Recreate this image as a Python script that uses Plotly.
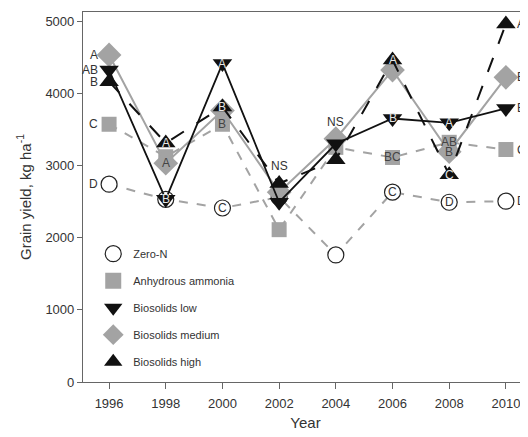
import plotly.graph_objects as go

years = [1996, 1998, 2000, 2002, 2004, 2006, 2008, 2010]
zero_n = [2740, 2530, 2410, 2560, 1760, 2630, 2490, 2505]
anhydrous = [3570, 3120, 3570, 2110, 3250, 3110, 3320, 3220]
bio_low = [4320, 2530, 4410, 2490, 3300, 3650, 3590, 3790]
bio_med = [4530, 3030, 3760, 2630, 3370, 4320, 3190, 4220]
bio_high = [4160, 3310, 3810, 2750, 3080, 4460, 2870, 4960]

zero_lbl = ["D", "", "C", "", "", "C", "D", "D"]
anh_lbl = ["C", "", "B", "", "", "BC", "AB", "C"]
low_lbl = ["AB", "B", "A", "", "", "B", "A", "B"]
med_lbl = ["A", "A", "", "", "", "", "B", "B"]
high_lbl = ["B", "A", "B", "", "", "A", "C", "A"]
ns_years = [2002, 2004]
ns_text = "NS"

names = ["Zero-N", "Anhydrous ammonia", "Biosolids low", "Biosolids medium", "Biosolids high"]

GRAY = "#a3a3a3"
BLACK = "#111111"

series = [
    dict(name=names[0], y=zero_n, lbl=zero_lbl, symbol="circle", mcolor="white", mline=dict(color="#222", width=1.2),
         line=dict(color=GRAY, width=2, dash="dash"), tcolor="#333", size=16),
    dict(name=names[1], y=anhydrous, lbl=anh_lbl, symbol="square", mcolor=GRAY, mline=dict(color=GRAY, width=0),
         line=dict(color=GRAY, width=2, dash="dash"), tcolor="#444", size=15),
    dict(name=names[3], y=bio_med, lbl=med_lbl, symbol="diamond", mcolor=GRAY, mline=dict(color=GRAY, width=0),
         line=dict(color=GRAY, width=2, dash="solid"), tcolor="#444", size=19),
    dict(name=names[2], y=bio_low, lbl=low_lbl, symbol="triangle-down", mcolor=BLACK, mline=dict(color=BLACK, width=0),
         line=dict(color=BLACK, width=1.8, dash="solid"), tcolor="#e6e6e6", size=17),
    dict(name=names[4], y=bio_high, lbl=high_lbl, symbol="triangle-up", mcolor=BLACK, mline=dict(color=BLACK, width=0),
         line=dict(color=BLACK, width=2, dash="longdash"), tcolor="#e6e6e6", size=17),
]

fig = go.Figure()
for s in series:
    fig.add_trace(go.Scatter(x=years, y=s["y"], mode="lines+markers", showlegend=False,
                             line=s["line"],
                             marker=dict(symbol=s["symbol"], size=s["size"], color=s["mcolor"], line=s["mline"])))

legend_order = [names[0], names[1], names[2], names[3], names[4]]
by_name = {s["name"]: s for s in series}
for i, nm in enumerate(legend_order):
    s = by_name[nm]
    fig.add_trace(go.Scatter(x=[None], y=[None], mode="markers", name=nm, legendgroup=str(i),
                             marker=dict(symbol=s["symbol"], size=16, color=s["mcolor"], line=s["mline"])))

annotations = []
for s in series:
    for i, (x, y, t) in enumerate(zip(years, s["y"], s["lbl"])):
        if not t:
            continue
        if i == 0:
            annotations.append(dict(x=x, y=y, text=t, showarrow=False, xanchor="right", xshift=-9,
                                    font=dict(size=12, color="#333")))
        elif i == len(years) - 1:
            annotations.append(dict(x=x, y=y, text=t, showarrow=False, xanchor="left", xshift=9,
                                    font=dict(size=12, color="#333")))
        else:
            annotations.append(dict(x=x, y=y, text=t, showarrow=False,
                                    font=dict(size=12, color=s["tcolor"])))

for yr in ns_years:
    idx = years.index(yr)
    top = max(s["y"][idx] for s in series)
    annotations.append(dict(x=yr, y=top, text=ns_text, showarrow=False, yshift=17,
                            font=dict(size=12, color="#333")))

# page body has an 8px margin, so the figure is drawn 8px smaller and offset
fig.update_layout(
    width=520, height=429,
    margin=dict(l=75, r=0, t=4, b=55, autoexpand=False),
    paper_bgcolor="white", plot_bgcolor="white",
    font=dict(family="Liberation Sans, Arial, sans-serif", color="#333"),
    annotations=annotations,
    legend=dict(x=0.023, y=0.386, xanchor="left", yanchor="top", bgcolor="rgba(0,0,0,0)",
                font=dict(size=11, color="#333"), tracegroupgap=8, itemsizing="trace"),
    xaxis=dict(range=[1995.08, 2010.78], tickvals=years, showgrid=False, zeroline=False, automargin=False,
               showline=True, linecolor="#666", linewidth=1.2, mirror=True,
               ticks="outside", ticklen=6, tickcolor="#666", tickfont=dict(size=13, color="#333"),
               ticklabelstandoff=3,
               title=dict(text="Year", font=dict(size=15, color="#333"), standoff=7)),
    yaxis=dict(range=[0, 5125], tickvals=[0, 1000, 2000, 3000, 4000, 5000], showgrid=False, zeroline=False,
               automargin=False,
               showline=True, linecolor="#666", linewidth=1.2,
               ticks="outside", ticklen=5, tickcolor="#666", tickfont=dict(size=13, color="#333"),
               title=dict(text="Grain yield, kg ha<sup>-1</sup>", font=dict(size=15, color="#333"), standoff=10)),
)

fig.write_html("out.html")
